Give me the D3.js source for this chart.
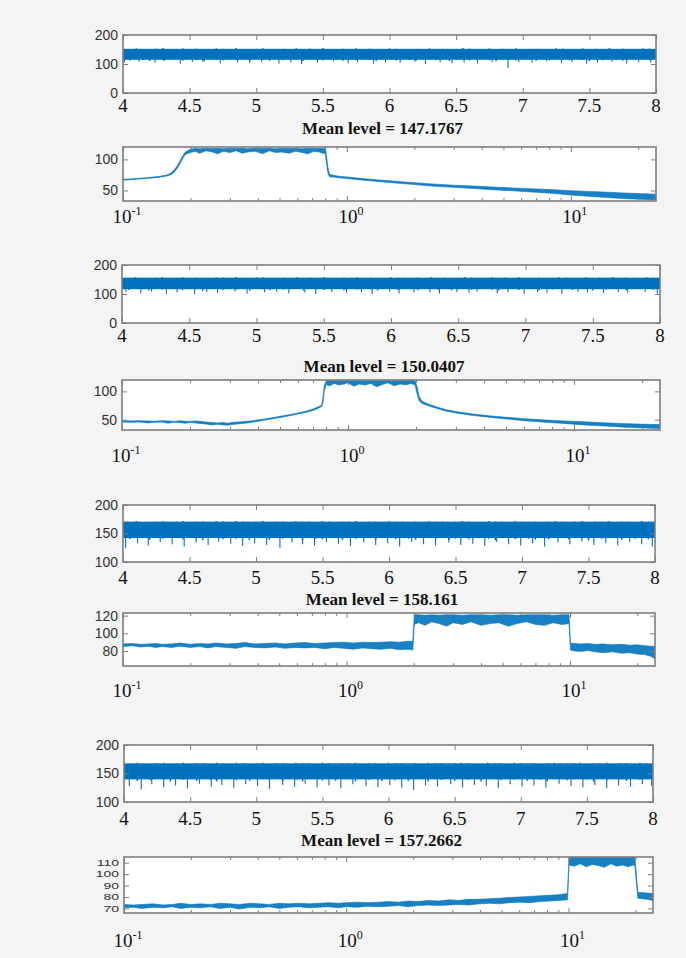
<!DOCTYPE html>
<html><head><meta charset="utf-8">
<script src="https://cdn.jsdelivr.net/npm/d3@7"></script>
<style>
html,body{margin:0;padding:0;background:#f4f4f4;}
svg{display:block;}
</style></head><body>
<svg id="chart" width="686" height="958"></svg>
<script>
// ---------- DATA ----------
const titles = ["Mean level = 147.1767", "Mean level = 150.0407", "Mean level = 158.161", "Mean level = 157.2662"];

const timeTicks = [4, 4.5, 5, 5.5, 6, 6.5, 7, 7.5, 8];
const timeTickLabels = ["4", "4.5", "5", "5.5", "6", "6.5", "7", "7.5", "8"];
const logMajor = [0.1, 1, 10];
const logMajorExp = ["-1", "0", "1"];
const logMinor = [0.2, 0.3, 0.4, 0.5, 0.6, 0.7, 0.8, 0.9, 2, 3, 4, 5, 6, 7, 8, 9, 20];

const yTicks1 = [0, 100, 200];
const yTicks2 = [50, 100];
const yTicks3 = [0, 100, 200];
const yTicks4 = [50, 100];
const yTicks5 = [100, 150, 200];
const yTicks6 = [80, 100, 120];
const yTicks7 = [100, 150, 200];
const yTicks8 = [70, 80, 90, 100, 110];

const timeGrid = [4.00,4.05,4.10,4.15,4.20,4.25,4.30,4.35,4.40,4.45,4.50,4.55,4.60,4.65,4.70,4.75,4.80,4.85,4.90,4.95,
5.00,5.05,5.10,5.15,5.20,5.25,5.30,5.35,5.40,5.45,5.50,5.55,5.60,5.65,5.70,5.75,5.80,5.85,5.90,5.95,
6.00,6.05,6.10,6.15,6.20,6.25,6.30,6.35,6.40,6.45,6.50,6.55,6.60,6.65,6.70,6.75,6.80,6.85,6.90,6.95,
7.00,7.05,7.10,7.15,7.20,7.25,7.30,7.35,7.40,7.45,7.50,7.55,7.60,7.65,7.70,7.75,7.80,7.85,7.90,7.95,8.00];

// time series 1
const t1Hi = [153,151,154,152,150,153,155,151,152,154,150,153,152,150,154,153,151,155,152,151,153,154,150,152,153,151,154,152,153,151,155,152,150,153,152,154,151,153,152,151,154,153,152,150,153,151,154,152,153,151,152,155,153,151,150,154,152,153,151,154,152,151,153,150,152,154,153,151,152,154,151,153,152,155,151,153,152,150,154,153,152];
const t1Lo = [116,112,118,114,110,117,113,119,115,111,117,114,109,118,115,112,119,113,116,110,118,114,111,117,113,119,115,110,116,114,112,118,115,111,117,113,120,114,110,117,115,112,118,114,111,119,116,113,117,110,114,118,112,116,119,113,110,117,115,112,118,114,111,116,113,119,115,112,117,114,110,116,113,118,115,111,117,114,119,113,116];
const t1SpikeX = [4.01,4.12,4.24,4.31,4.43,4.52,4.61,4.73,4.86,4.95,5.04,5.17,5.26,5.34,5.46,5.58,5.69,5.76,5.88,5.97,6.08,6.19,6.27,6.38,6.47,6.56,6.66,6.77,6.89,6.97,7.07,7.18,7.29,7.37,7.48,7.56,7.67,7.78,7.87,7.96];
const t1SpikeLo = [105,108,104,110,101,107,109,103,106,104,108,102,106,100,105,109,103,107,101,106,104,108,100,106,103,105,102,107,86,106,104,109,103,107,101,104,108,102,106,105];

// time series 2
const t2Hi = [157,155,158,156,154,157,159,155,156,158,155,157,156,154,158,157,155,159,156,155,157,158,155,156,157,155,158,156,157,155,159,156,154,157,156,158,155,157,156,155,158,157,156,154,157,155,158,156,157,155,156,159,157,155,154,158,156,157,155,158,156,155,157,154,156,158,157,155,156,158,155,157,156,159,155,157,156,154,158,157,156];
const t2Lo = [118,114,120,116,112,119,115,121,117,113,119,116,111,120,117,114,121,115,118,112,120,116,113,119,115,121,117,112,118,116,114,120,117,113,119,115,122,116,112,119,117,114,120,116,113,121,118,115,119,112,116,120,114,118,121,115,112,119,117,114,120,116,113,118,115,121,117,114,119,116,112,118,115,120,117,113,119,116,121,115,118];
const t2SpikeX = [4.03,4.14,4.22,4.33,4.41,4.54,4.63,4.71,4.84,4.93,5.06,5.15,5.24,5.36,5.44,5.56,5.67,5.78,5.86,5.99,6.06,6.17,6.29,6.36,6.49,6.58,6.64,6.79,6.87,6.99,7.09,7.16,7.27,7.39,7.46,7.58,7.69,7.76,7.89,7.98];
const t2SpikeLo = [106,103,108,101,105,99,107,104,109,102,106,108,103,105,100,107,104,106,101,108,103,106,105,102,107,104,109,103,106,101,107,104,102,108,105,103,106,104,107,102];

// time series 3
const t3Hi = [171,170,172,170,169,171,172,170,171,172,170,171,171,169,172,171,170,172,171,170,171,172,170,171,171,170,172,171,171,170,172,171,169,171,171,172,170,171,171,170,172,171,171,169,171,170,172,171,171,170,171,172,171,170,169,172,171,171,170,172,171,170,171,169,171,172,171,170,171,172,170,171,171,172,170,171,171,169,172,171,171];
const t3Lo = [143,140,145,142,139,144,141,146,142,140,144,141,138,145,142,140,146,141,143,139,145,142,139,144,141,146,142,138,143,141,140,145,142,139,144,141,146,142,139,144,142,140,145,141,139,146,143,140,144,138,141,145,140,143,146,141,138,144,142,140,145,141,139,143,140,146,142,140,144,141,138,143,141,145,142,139,144,141,146,140,143];
const t3SpikeX = [4.02,4.11,4.19,4.28,4.37,4.46,4.55,4.64,4.72,4.81,4.9,4.99,5.08,5.18,5.27,5.35,5.44,5.53,5.62,5.71,5.81,5.9,5.99,6.08,6.17,6.26,6.35,6.45,6.54,6.63,6.72,6.81,6.9,6.99,7.08,7.17,7.27,7.36,7.45,7.54,7.63,7.72,7.81,7.9,7.98];
const t3SpikeLo = [124,133,129,135,131,127,134,130,136,132,128,133,130,125,134,131,129,135,132,128,134,130,133,127,135,131,129,134,130,132,128,135,131,129,133,127,134,131,136,130,133,129,135,131,127];

// time series 4
const t4Hi = [168,167,169,167,166,168,169,167,168,169,167,168,168,166,169,168,167,169,168,167,168,169,167,168,168,167,169,168,168,167,169,168,166,168,168,169,167,168,168,167,169,168,168,166,168,167,169,168,168,167,168,169,168,167,166,169,168,168,167,169,168,167,168,166,168,169,168,167,168,169,167,168,168,169,167,168,168,166,169,168,168];
const t4Lo = [139,142,137,141,138,143,140,136,142,139,141,137,143,139,136,142,140,138,143,137,140,143,138,141,137,142,139,136,141,143,138,141,137,142,140,136,143,139,141,137,142,138,141,137,143,140,136,142,139,141,137,142,139,141,136,143,140,138,142,139,141,137,142,139,136,141,143,138,140,142,139,136,141,138,143,140,137,142,139,141,140];
const t4SpikeX = [4.04,4.13,4.21,4.3,4.39,4.48,4.57,4.66,4.74,4.83,4.92,5.01,5.1,5.2,5.29,5.37,5.46,5.55,5.64,5.73,5.83,5.92,6.01,6.1,6.19,6.28,6.37,6.47,6.56,6.65,6.74,6.83,6.92,7.01,7.1,7.19,7.29,7.38,7.47,7.56,7.65,7.74,7.83,7.92,7.99];
const t4SpikeLo = [128,122,131,126,129,124,132,127,130,125,131,128,123,130,127,132,126,129,124,131,128,126,130,125,121,129,127,131,126,130,128,124,131,127,129,125,132,128,126,130,124,129,127,131,128];

// spectrum 1
const s1Freq = [0.1,0.11,0.12,0.13,0.14,0.15,0.155,0.16,0.165,0.17,0.175,0.18,0.185,0.19,0.2,0.21,0.22,0.235,0.25,0.265,0.28,0.3,0.32,0.34,0.36,0.39,0.42,0.45,0.48,0.51,0.55,0.59,0.63,0.67,0.71,0.75,0.78,0.8,0.81,0.82,0.835,0.87,0.92,1.0,1.15,1.3,1.5,1.7,2.0,2.4,3.0,3.7,4.5,5.5,7.0,8.5,10,12,14,17,20,24];
const s1Hi = [68,68.8,69.8,70.8,72,73.5,74.5,76,79,84,90,98,106,112,116.5,117.5,117,118,117.5,118,117,118,117.5,118,117,118,117.5,118,117,118,117.5,118,117,118,117.5,118,117.5,117.5,108,90,76,74.5,73,71.8,69.5,67.8,66,64.5,62.5,60.5,58.5,57,55.5,54,52.5,51,49.5,48.5,47.5,46,45,44];
const s1Lo = [66.5,67.5,68.5,69.5,70.5,72,73,74,76,80,86,94,102,108,111,113,110,114,112,109,113,111,114,110,112,113,109,114,111,112,110,113,111,109,113,112,110,110,95,80,72,71.5,70.5,69.2,67,65.3,63.3,61.5,59.5,57,55,53,51,49.5,47,45,42.5,40.5,39,37,36,35];

// spectrum 2
const s2Freq = [0.1,0.11,0.12,0.13,0.14,0.15,0.16,0.17,0.18,0.19,0.2,0.21,0.22,0.235,0.25,0.265,0.28,0.295,0.31,0.325,0.34,0.36,0.38,0.4,0.43,0.46,0.5,0.55,0.6,0.65,0.7,0.74,0.765,0.775,0.785,0.8,0.83,0.87,0.91,0.96,1.0,1.06,1.12,1.19,1.26,1.34,1.42,1.5,1.6,1.7,1.8,1.9,1.98,2.02,2.06,2.12,2.25,2.45,2.7,3.0,3.5,4.2,5,6,7.5,9,11,13,16,19,24];
const s2Hi = [48.5,48,48.5,48,47.5,48.5,48,47,48.5,47.5,47,48,47.5,46,45,44.5,45,44,45.5,46,46.5,47.5,48.5,50,51.5,53.5,56,59,62,65,69,73,76,90,110,119,119,118.5,119,119,118.5,119,119,118.5,119,119,118.5,119,119,118.5,119,119,119,108,92,83,78,73,68,64.5,60.5,57,54.5,52,49.5,48,46.5,45,43.5,42.5,41.5];
const s2Lo = [46,45.5,46,44.5,45.5,46,44,45.5,45,44,45,44.5,43.5,42.5,41,42,41,40.5,42,42.5,43.5,44.5,46,47.5,49.5,51.5,54,57,60,63,66.5,70.5,73.5,80,100,112,110,114,111,113,115,109,113,111,114,108,112,115,110,113,111,114,111,96,84,79,75,70.5,65.5,62,58,54.5,51.5,48.5,45.5,43.5,41,39.5,37.5,36,34.5];

// spectrum 3
const s3Freq = [0.1,0.11,0.12,0.13,0.14,0.15,0.165,0.18,0.2,0.22,0.24,0.26,0.29,0.32,0.35,0.39,0.43,0.48,0.53,0.59,0.65,0.72,0.8,0.88,0.97,1.07,1.18,1.3,1.43,1.57,1.72,1.88,1.98,2.01,2.1,2.25,2.4,2.6,2.8,3.0,3.3,3.6,4.0,4.4,4.8,5.3,5.8,6.4,7.0,7.7,8.4,9.2,9.9,10.05,10.5,11.2,12,13,14,15.5,17,18.5,20,21.5,23,24];
const s3Hi = [88,88.5,87.5,88,88.5,87.5,88,89,87.5,88.5,88,89,88,88.5,89.5,88,88.5,89,88,89,89.5,88.5,89,89.5,90,89,90,89.5,90,90.5,90,91,91,121,121,120.5,121,120.5,121,121,120.5,121,121,120.5,121,121,120.5,121,121,121,120.5,121,121,89,88.5,88,88.5,87.5,88,87,87.5,86.5,87,86,85.5,85];
const s3Lo = [85,86,84.5,85.5,84,85,84,85.5,84,85,83.5,85,84,83,85,84,83.5,84.5,83,84,83.5,84,82.5,84,83,82,83.5,82.5,82,83,81.5,82,81,110,112,109,113,111,108,112,110,113,109,111,112,108,111,113,110,109,112,110,111,81,80,79.5,80.5,79,78,79,77.5,78,76.5,76,74,71];

// spectrum 4
const s4Freq = [0.1,0.11,0.12,0.135,0.15,0.165,0.18,0.2,0.22,0.245,0.27,0.3,0.33,0.37,0.41,0.45,0.5,0.55,0.61,0.68,0.75,0.83,0.92,1.0,1.12,1.25,1.4,1.55,1.72,1.9,2.1,2.35,2.6,2.9,3.2,3.55,3.95,4.4,4.9,5.4,6.0,6.7,7.4,8.2,9.0,9.9,10.05,10.6,11.3,12,12.8,13.6,14.5,15.5,16.5,17.5,18.5,19.5,19.9,20.5,21.5,22.5,24];
const s4Hi = [73.5,73,73.5,74,73,73.5,74.5,73.5,74,73.5,74.5,74,73.5,74.5,74,73.5,74.5,74,74.5,74,74.5,75,74.5,75,75.5,75,75.5,76,75.5,76.5,76,77,76.5,77.5,77,78,78,78.5,79,79.5,80,80.5,81,81.5,82,83,115,115,115,115,115,115,115,115,115,115,115,115,115,84,84,83.5,83];
const s4Lo = [70.5,71,70,71,70.5,71.5,70,71,70.5,71.5,70,71,69.5,71,70.5,71.5,70,71,71.5,70.5,71,71.5,70.5,71.5,71,72,71.5,72,72.5,71.5,72.5,73,72.5,73,73.5,73,74,74.5,74,75,75.5,75,76,76.5,77,77.5,108,107,109,106.5,108.5,107.5,106,109,107,108,106.5,108,107,79,78.5,78,77];

// ---------- LAYOUT ----------
const BLUE = "#0072BD", FRAME = "#7d7d7d";
const panels = [
  {kind:"time", x0:123, x1:656, y0:35,  y1:93,  ydom:[0,200],  yt:yTicks1, hi:t1Hi, lo:t1Lo, sx:t1SpikeX, sl:t1SpikeLo, lab:112},
  {kind:"spec", x0:123, x1:656, y0:147, y1:201, ydom:[33,120], yt:yTicks2, f:s1Freq, hi:s1Hi, lo:s1Lo, lab:223, title:titles[0], ty:134},
  {kind:"time", x0:122, x1:660, y0:265, y1:323, ydom:[0,200],  yt:yTicks3, hi:t2Hi, lo:t2Lo, sx:t2SpikeX, sl:t2SpikeLo, lab:342},
  {kind:"spec", x0:122, x1:660, y0:380, y1:430, ydom:[32,120], yt:yTicks4, f:s2Freq, hi:s2Hi, lo:s2Lo, lab:462, title:titles[1], ty:372},
  {kind:"time", x0:123, x1:655, y0:505, y1:562, ydom:[100,200],yt:yTicks5, hi:t3Hi, lo:t3Lo, sx:t3SpikeX, sl:t3SpikeLo, lab:584},
  {kind:"spec", x0:123, x1:655, y0:613, y1:666, ydom:[63,123], yt:yTicks6, f:s3Freq, hi:s3Hi, lo:s3Lo, lab:697, title:titles[2], ty:605},
  {kind:"time", x0:124, x1:653, y0:745, y1:802, ydom:[100,200],yt:yTicks7, hi:t4Hi, lo:t4Lo, sx:t4SpikeX, sl:t4SpikeLo, lab:825},
  {kind:"spec", x0:124, x1:653, y0:857, y1:913, ydom:[66,115], yt:yTicks8, f:s4Freq, hi:s4Hi, lo:s4Lo, lab:947, title:titles[3], ty:846, squish:true}
];

const svg = d3.select("#chart");
svg.append("rect").attr("width",686).attr("height",958).attr("fill","#f4f4f4");
const defs = svg.append("defs");

panels.forEach((P, idx) => {
  const w = P.x1 - P.x0, h = P.y1 - P.y0;
  const g = svg.append("g").attr("transform", `translate(${P.x0},${P.y0})`);
  const x = P.kind === "time"
    ? d3.scaleLinear().domain([4, 8]).range([0, w])
    : d3.scaleLog().domain([0.1, 24]).range([0, w]);
  const y = d3.scaleLinear().domain(P.ydom).range([h, 0]);

  g.append("rect").attr("width", w).attr("height", h).attr("fill", "#fff");
  defs.append("clipPath").attr("id", "clip" + idx)
    .append("rect").attr("width", w).attr("height", h);
  const plot = g.append("g").attr("clip-path", `url(#clip${idx})`);

  if (P.kind === "time") {
    // dense core of the noisy signal
    const coreLo = d3.mean(P.lo), coreHi = d3.mean(P.hi);
    plot.append("rect")
      .attr("x", x(4)).attr("width", x(8) - x(4))
      .attr("y", y(coreHi)).attr("height", y(coreLo) - y(coreHi))
      .attr("fill", BLUE);
    // per-sample excursions (thin vertical strokes)
    plot.selectAll("line.smp").data(timeGrid).join("line")
      .attr("class", "smp")
      .attr("x1", d => x(d)).attr("x2", d => x(d))
      .attr("y1", (d, i) => y(P.lo[i])).attr("y2", (d, i) => y(P.hi[i]))
      .attr("stroke", BLUE).attr("stroke-width", 1.5);
    // deeper downward spikes
    const mid = (coreLo + coreHi) / 2;
    plot.selectAll("line.sp").data(P.sx).join("line")
      .attr("class", "sp")
      .attr("x1", d => x(d)).attr("x2", d => x(d))
      .attr("y1", (d, i) => y(P.sl[i])).attr("y2", y(mid))
      .attr("stroke", BLUE).attr("stroke-width", 1.1);
  } else {
    const area = d3.area()
      .x((d, i) => x(P.f[i]))
      .y0((d, i) => y(P.lo[i]))
      .y1((d, i) => y(P.hi[i]));
    plot.append("path").datum(P.f).attr("d", area)
      .attr("fill", BLUE).attr("fill-opacity", 0.9)
      .attr("stroke", BLUE).attr("stroke-opacity", 0.85)
      .attr("stroke-width", 0.7).attr("stroke-linejoin", "round");
  }

  // axes (inward ticks, box style)
  const major = P.kind === "time" ? timeTicks : logMajor;
  const addAxis = (axis, tr) => {
    const a = g.append("g").attr("transform", tr).call(axis);
    a.select(".domain").remove();
    a.selectAll(".tick line").attr("stroke", FRAME).attr("stroke-width", 1);
    return a;
  };
  addAxis(d3.axisBottom(x).tickValues(major).tickSize(-5).tickFormat(""), `translate(0,${h})`);
  addAxis(d3.axisTop(x).tickValues(major).tickSize(-5).tickFormat(""), `translate(0,0)`);
  if (P.kind === "spec") {
    addAxis(d3.axisBottom(x).tickValues(logMinor).tickSize(-3).tickFormat(""), `translate(0,${h})`);
    addAxis(d3.axisTop(x).tickValues(logMinor).tickSize(-3).tickFormat(""), `translate(0,0)`);
  }
  addAxis(d3.axisRight(y).tickValues(P.yt).tickSize(-5).tickFormat(""), `translate(${w},0)`);
  const left = addAxis(d3.axisLeft(y).tickValues(P.yt).tickSize(-5).tickPadding(5), `translate(0,0)`);
  left.selectAll(".tick text")
    .attr("font-family", "Liberation Sans, Arial, sans-serif")
    .attr("font-size", 14).attr("fill", "#333");
  if (P.squish) {
    left.selectAll(".tick text").attr("transform", "scale(1,0.62)");
  }

  // frame
  g.append("rect").attr("width", w).attr("height", h)
    .attr("fill", "none").attr("stroke", FRAME).attr("stroke-width", 1.6);

  // x tick labels
  const ly = P.lab - P.y0;
  if (P.kind === "time") {
    g.selectAll("text.xl").data(timeTicks).join("text")
      .attr("class", "xl")
      .attr("x", d => x(d)).attr("y", ly)
      .attr("text-anchor", "middle")
      .attr("font-family", "Liberation Serif, Times New Roman, serif")
      .attr("font-size", 19).attr("fill", "#111")
      .text((d, i) => timeTickLabels[i]);
  } else {
    const t = g.selectAll("text.xl").data(logMajor).join("text")
      .attr("class", "xl")
      .attr("x", d => x(d) + 4).attr("y", ly)
      .attr("text-anchor", "middle")
      .attr("font-family", "Liberation Serif, Times New Roman, serif")
      .attr("font-size", 19).attr("fill", "#111");
    t.append("tspan").text("10");
    t.append("tspan").attr("dy", -8).attr("font-size", 12).text((d, i) => logMajorExp[i]);
  }

  if (P.title) {
    svg.append("text")
      .attr("x", (P.x0 + P.x1) / 2 - 7).attr("y", P.ty)
      .attr("text-anchor", "middle")
      .attr("font-family", "Liberation Serif, Times New Roman, serif")
      .attr("font-weight", "bold").attr("font-size", 17).attr("fill", "#111")
      .text(P.title);
  }
});
</script>
</body></html>
